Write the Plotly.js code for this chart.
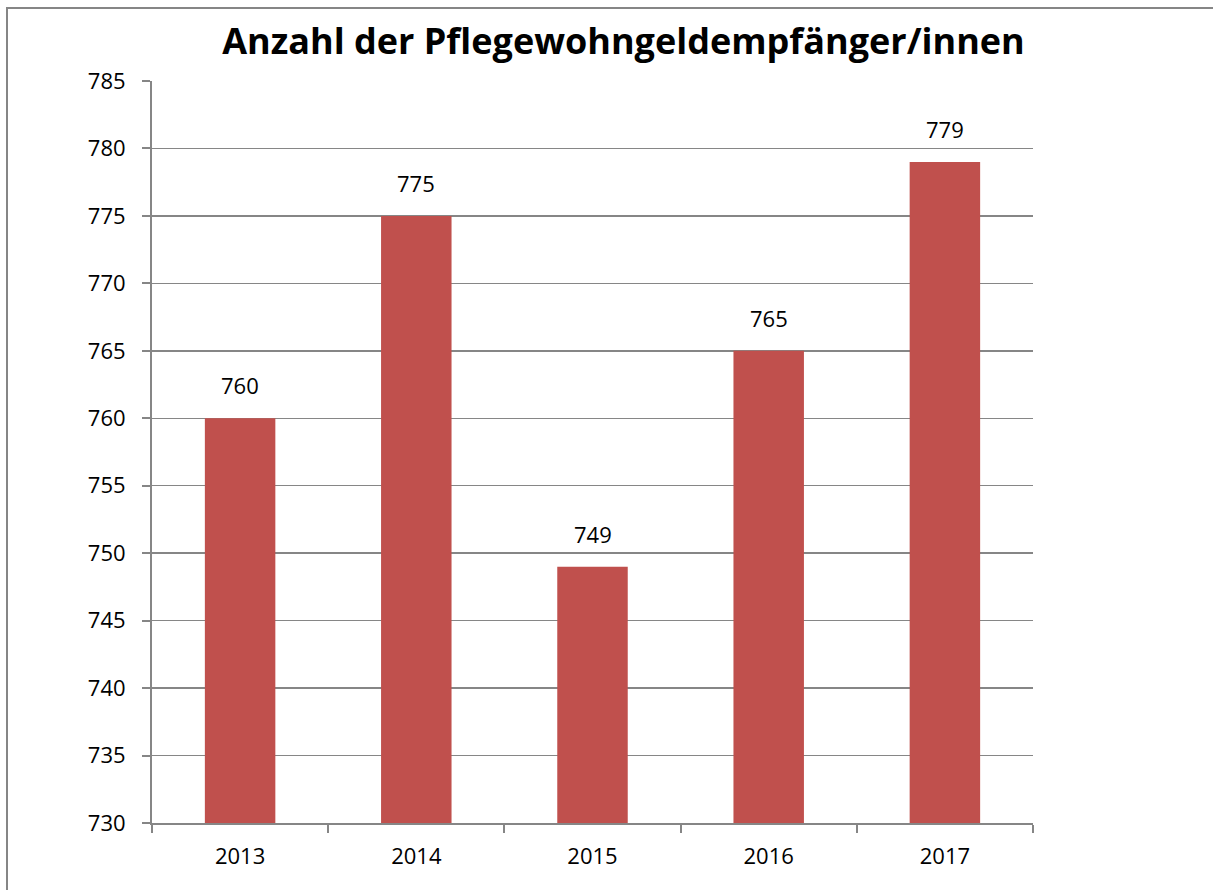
<!DOCTYPE html>
<html>
<head>
<meta charset="utf-8">
<script src="https://cdn.plot.ly/plotly-3.0.1.min.js"></script>
<style>
  html, body { margin: 0; padding: 0; background: #fff; overflow: hidden; }
  #frame { position: absolute; left: 6px; top: 7px; width: 1400px; height: 1000px; border-left: 2px solid #868686; border-top: 2px solid #868686; }
  #chart { position: absolute; left: 0; top: 0; width: 1213px; height: 890px; }
</style>
</head>
<body>
<div id="frame"></div>
<div id="chart"></div>
<script>
const years = ['2013', '2014', '2015', '2016', '2017'];
const recipients = [760, 775, 749, 765, 779];
const chartTitle = 'Anzahl der Pflegewohngeldempfänger/innen';

const FONT = 'Open Sans, Liberation Sans, sans-serif';

const trace = {
  type: 'bar',
  x: years,
  y: recipients,
  marker: { color: '#C0504D' },
  cliponaxis: false,
  hoverinfo: 'x+y'
};

const labels = years.map((yr, i) => ({
  x: i,
  y: recipients[i],
  xref: 'x', yref: 'y',
  text: String(recipients[i]),
  showarrow: false,
  yanchor: 'bottom',
  yshift: 16,
  font: { family: FONT, size: 22, color: '#000' }
}));

const layout = {
  width: 1213,
  height: 890,
  paper_bgcolor: 'rgba(0,0,0,0)',
  plot_bgcolor: '#fff',
  margin: { l: 152, r: 180, t: 81, b: 67 },
  bargap: 0.6,
  showlegend: false,
  annotations: labels,
  title: {
    text: '<b>' + chartTitle + '</b>',
    font: { family: FONT, size: 36, color: '#000' },
    x: 0.514, xanchor: 'center',
    y: 0.953, yanchor: 'middle'
  },
  xaxis: {
    type: 'category',
    categoryorder: 'array',
    categoryarray: years,
    range: [-0.5, years.length - 0.5],
    autorange: false,
    showline: true, linecolor: '#868686', linewidth: 2,
    ticks: 'outside', tickson: 'boundaries', ticklen: 8, tickcolor: '#868686', tickwidth: 2,
    ticklabelstandoff: 13,
    tickangle: 0,
    tickfont: { family: FONT, size: 22, color: '#000' },
    showgrid: false
  },
  yaxis: {
    range: [730, 785],
    autorange: false,
    dtick: 5,
    tick0: 730,
    showline: true, linecolor: '#868686', linewidth: 2,
    ticks: 'outside', ticklen: 8, tickcolor: '#868686', tickwidth: 2,
    ticklabelstandoff: 12,
    showgrid: true, gridcolor: '#868686', gridwidth: 1.5,
    zeroline: false,
    tickfont: { family: FONT, size: 22, color: '#000' }
  }
};

Plotly.newPlot('chart', [trace], layout, { displayModeBar: false, staticPlot: true });
</script>
</body>
</html>
